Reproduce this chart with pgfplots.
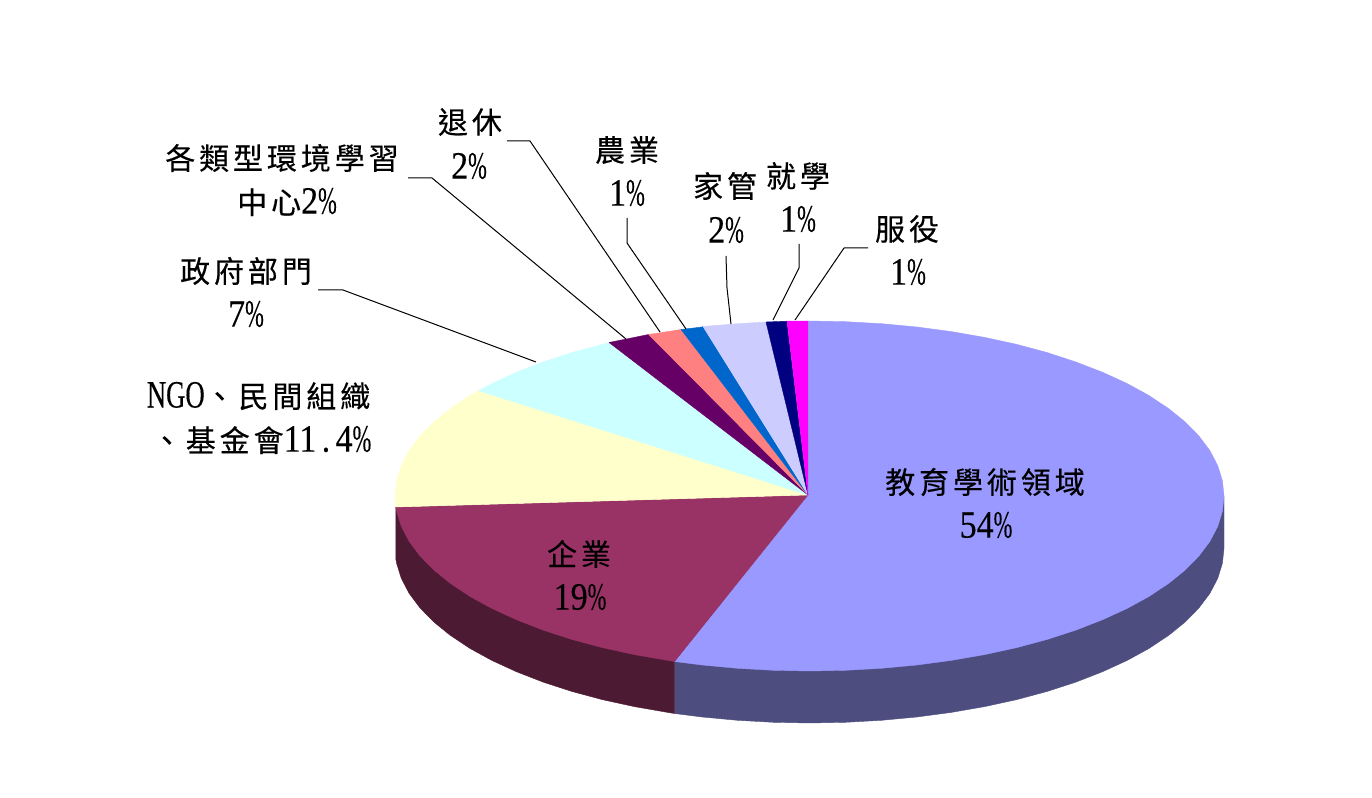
\documentclass[border=0pt]{standalone}
\usepackage{fontspec}
\usepackage{pgfplots}
\pgfplotsset{compat=1.18}
\setmainfont{Liberation Serif}
\newfontfamily\cjk[LetterSpace=13,FakeBold=0.35]{Noto Sans CJK TC}
\newfontfamily\dg[FakeStretch=0.88,FakeBold=0.25]{Liberation Serif}
\newfontfamily\nar[FakeStretch=0.69,FakeBold=0.25]{Liberation Serif}
\newfontfamily\pcf[FakeStretch=0.58,FakeBold=0.25]{Liberation Serif}
\newcommand{\cj}[1]{{\fontsize{22.5}{26}\cjk #1}}
\newcommand{\nm}[1]{{\fontsize{29}{32}\selectfont\dg #1{\pcf\%}}}
\definecolor{c1}{HTML}{9999FF}
\definecolor{c2}{HTML}{993366}
\definecolor{c3}{HTML}{FFFFCC}
\definecolor{c4}{HTML}{CCFFFF}
\definecolor{c5}{HTML}{660066}
\definecolor{c6}{HTML}{FF8080}
\definecolor{c7}{HTML}{0066CC}
\definecolor{c8}{HTML}{CCCCFF}
\definecolor{c9}{HTML}{000080}
\definecolor{c10}{HTML}{FF00FF}
\definecolor{s1}{HTML}{4D4D80}
\definecolor{s2}{HTML}{4D1A33}
\begin{document}
\begin{tikzpicture}
\fill[white] (0,0) rectangle (1029pt,598.5pt);
\begin{axis}[
    at={(0,0)}, anchor=south west,
    scale only axis,
    width=1029pt, height=598.5pt,
    xmin=0, xmax=1372, ymin=0, ymax=798,
    y dir=reverse,
    hide axis,
    clip=false,
    every axis plot/.append style={mark=none, line join=round},
]
% side walls
\addplot[fill=s1, draw=s1, line width=0.3pt] coordinates {
 (1224,496) (1224,548) (1222.4,563.3) (1217.7,578.4) (1209.9,593.3) (1199,607.9)
 (1185.2,622) (1168.5,635.5) (1149.1,648.4) (1127,660.5) (1102.6,671.7) (1075.9,682.1)
 (1047.3,691.4) (1016.8,699.6) (984.7,706.6) (951.3,712.4) (916.8,717) (881.5,720.3)
 (845.6,722.3) (809.5,723) (773.4,722.3) (737.5,720.3) (702.2,717) (674.5,713.5) (674.5,600)};
\addplot[fill=s2, draw=s2, line width=0.3pt] coordinates {
 (674.5,600) (674.5,713.5) (667.7,712.4) (634.3,706.6) (602.2,699.6) (571.7,691.4)
 (543.1,682.1) (516.4,671.7) (492,660.5) (469.9,648.4) (450.5,635.5) (433.8,622)
 (420,607.9) (409.1,593.3) (401.3,578.4) (396.6,563.3) (395.8,559) (395.8,507)};
% top slices
\addplot[fill=c1, draw=c1, line width=0.3pt] coordinates {
 (808,495) (808,321) (845.6,321.7) (881.5,323.7) (916.8,327) (951.3,331.6) (984.7,337.4)
 (1016.8,344.4) (1047.3,352.6) (1075.9,362) (1102.6,372.3) (1127,383.5) (1149.1,395.6)
 (1168.5,408.5) (1185.2,422) (1199,436.1) (1209.9,450.7) (1217.7,465.6) (1222.4,480.7)
 (1224,496) (1222.4,511.3) (1217.7,526.4) (1209.9,541.3) (1199,555.9) (1185.2,570)
 (1168.5,583.5) (1149.1,596.4) (1127,608.5) (1102.6,619.7) (1075.9,630.1) (1047.3,639.4)
 (1016.8,647.6) (984.7,654.6) (951.3,660.4) (916.8,665) (881.5,668.3) (845.6,670.3)
 (809.5,671) (773.4,670.3) (737.5,668.3) (702.2,665) (674.5,661.5)};
\addplot[fill=c2, draw=c2, line width=0.3pt] coordinates {
 (808,495) (674.5,661.5) (667.7,660.4) (634.3,654.6) (602.2,647.6) (571.7,639.4) (543.1,630.1)
 (516.4,619.7) (492,608.5) (469.9,596.4) (450.5,583.5) (433.8,570) (420,555.9)
 (409.1,541.3) (401.3,526.4) (396.6,511.3) (395.8,507)};
\addplot[fill=c3, draw=c3, line width=0.3pt] coordinates {
 (808,495) (395.8,507) (395,496) (396.6,480.7) (401.3,465.6) (409.1,450.7) (420,436.1)
 (433.8,422) (450.5,408.5) (469.9,395.6) (478.5,390.7)};
\addplot[fill=c4, draw=c4, line width=0.3pt] coordinates {
 (808,495) (478.5,390.7) (492,383.5) (516.4,372.3) (543.1,362) (571.7,352.6) (602.2,344.4) (609,342.5)};
\addplot[fill=c5, draw=c5, line width=0.3pt] coordinates {
 (808,495) (609,342.5) (634.3,337.4) (648.7,334.5)};
\addplot[fill=c6, draw=c6, line width=0.3pt] coordinates {
 (808,495) (648.7,334.5) (667.7,331.6) (681,329.5)};
\addplot[fill=c7, draw=c7, line width=0.3pt] coordinates {
 (808,495) (681,329.5) (702.2,327) (703,326.5)};
\addplot[fill=c8, draw=c8, line width=0.3pt] coordinates {
 (808,495) (703,326.5) (737.5,323.7) (766,322)};
\addplot[fill=c9, draw=c9, line width=0.3pt] coordinates {
 (808,495) (766,322) (787,321.2)};
\addplot[fill=c10, draw=c10, line width=0.3pt] coordinates {
 (808,495) (787,321.2) (808,321)};
% leader lines
\addplot[black, line width=0.75pt] coordinates {(318,290) (343,290) (536,362)};
\addplot[black, line width=0.75pt] coordinates {(408,178) (432,178) (626,339)};
\addplot[black, line width=0.75pt] coordinates {(507,141) (530,141) (660,332)};
\addplot[black, line width=0.75pt] coordinates {(627,218) (627,243) (686,329)};
\addplot[black, line width=0.75pt] coordinates {(726,256) (727,288) (731,324)};
\addplot[black, line width=0.75pt] coordinates {(799,244) (799,268) (773,320)};
\addplot[black, line width=0.75pt] coordinates {(868,248) (844,248) (795,320)};
% labels
\node at (axis cs:985,482) {\cj{教育學術領域}};
\node at (axis cs:986,525) {\nm{54}};
\node at (axis cs:579,554) {\cj{企業}};
\node at (axis cs:580,597) {\nm{19}};
\node[anchor=east] at (axis cs:375,396) {{\fontsize{29}{32}\selectfont\nar NGO}\cj{、民間組織}};
\node[anchor=east] at (axis cs:376,440) {\cj{、基金會}{\fontsize{29}{32}\selectfont\dg 11\hspace{4pt}.\hspace{4pt}4{\pcf\%}}};
\node at (axis cs:246,271) {\cj{政府部門}};
\node at (axis cs:246,314) {\nm{7}};
\node at (axis cs:282,158) {\cj{各類型環境學習}};
\node at (axis cs:287,202) {\cj{中心}\nm{2}};
\node at (axis cs:470,122) {\cj{退休}};
\node at (axis cs:469,166) {\nm{2}};
\node at (axis cs:627,150) {\cj{農業}};
\node at (axis cs:627,193) {\nm{1}};
\node at (axis cs:725,186) {\cj{家管}};
\node at (axis cs:726,230) {\nm{2}};
\node at (axis cs:798,176) {\cj{就學}};
\node at (axis cs:798,219) {\nm{1}};
\node at (axis cs:907,229) {\cj{服役}};
\node at (axis cs:908,272) {\nm{1}};
\end{axis}
\end{tikzpicture}
\end{document}
